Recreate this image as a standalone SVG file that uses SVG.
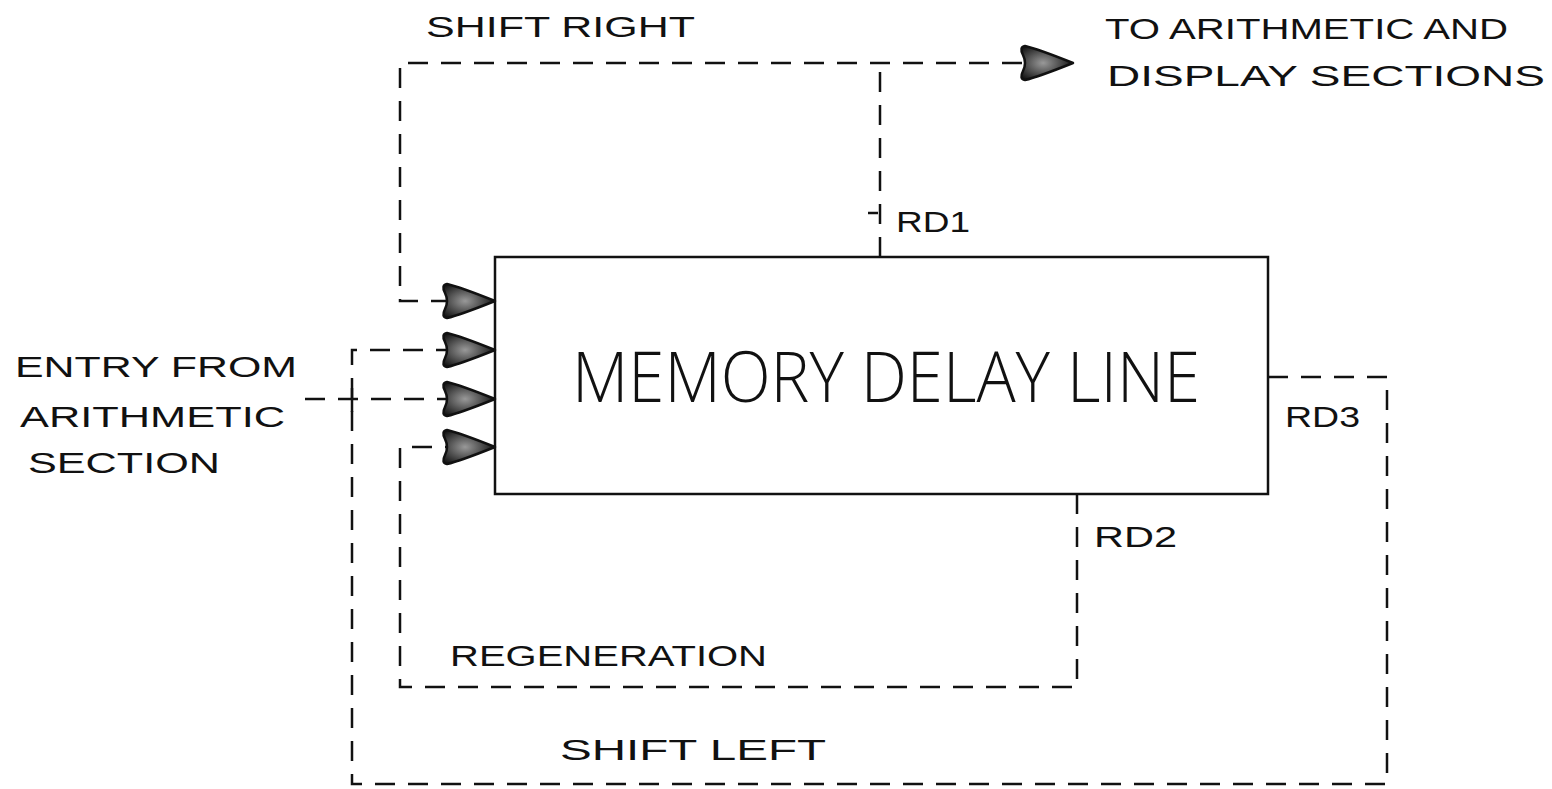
<svg xmlns="http://www.w3.org/2000/svg" width="1552" height="789" viewBox="0 0 1552 789">
<style>
.t{font-family:"Liberation Sans",Arial,sans-serif;font-size:29px;fill:#111}
.big{font-family:"Open Sans","Liberation Sans",sans-serif;font-weight:300;font-size:70px;fill:#111}
.d{fill:none;stroke:#111;stroke-width:2.5;stroke-dasharray:20 13}
.s{fill:none;stroke:#111;stroke-width:2.5}
</style>
<defs>
<radialGradient id="g" cx="0.42" cy="0.5" r="0.6">
<stop offset="0" stop-color="#999"/>
<stop offset="0.5" stop-color="#555"/>
<stop offset="1" stop-color="#111"/>
</radialGradient>
<path id="arr" d="M0,0 C-15,-6 -35,-14 -48,-17 Q-54,-16 -50,-8 Q-46,0 -50,8 Q-54,16 -48,17 C-35,14 -15,6 0,0 Z" fill="url(#g)" stroke="#111" stroke-width="2.5" stroke-linejoin="round"/>
</defs>
<rect width="1552" height="789" fill="#fff"/>

<g id="connectors">
<!-- shift right / RD1 -->
<path class="d" d="M880,257 V63"/>
<path class="d" d="M1022,63 H400 V301 H447"/>
<use href="#arr" transform="translate(1073,63)"/>
<!-- shift left / RD3 -->
<path class="d" d="M1268,377 H1387 V784 H352 V350 H447"/>
<!-- entry -->
<path class="d" d="M305,399 H447"/>
<path class="s" d="M352,388 V412"/>
<!-- regeneration / RD2 -->
<path class="d" d="M1077,494 V687 H400 V447 H447"/>
<path class="s" d="M868,213 H878"/>
<use href="#arr" transform="translate(495,301)"/>
<use href="#arr" transform="translate(495,350)"/>
<use href="#arr" transform="translate(495,399)"/>
<use href="#arr" transform="translate(495,447)"/>
</g>

<g id="memory">
<rect x="495" y="257" width="773" height="237" fill="none" stroke="#111" stroke-width="2.5"/>
<text class="big" x="572" y="402" textLength="628" lengthAdjust="spacingAndGlyphs">MEMORY DELAY LINE</text>
</g>

<g id="labels">
<text class="t" x="426" y="37" textLength="269" lengthAdjust="spacingAndGlyphs">SHIFT RIGHT</text>
<text class="t" x="1105" y="39" textLength="403" lengthAdjust="spacingAndGlyphs">TO ARITHMETIC AND</text>
<text class="t" x="1107" y="86" textLength="438" lengthAdjust="spacingAndGlyphs">DISPLAY SECTIONS</text>
<text class="t" x="896" y="232" textLength="74" lengthAdjust="spacingAndGlyphs">RD1</text>
<text class="t" x="1285" y="427" textLength="75" lengthAdjust="spacingAndGlyphs">RD3</text>
<text class="t" x="1094" y="547" textLength="83" lengthAdjust="spacingAndGlyphs">RD2</text>
<text class="t" x="15" y="377" textLength="282" lengthAdjust="spacingAndGlyphs">ENTRY FROM</text>
<text class="t" x="20" y="427" textLength="265" lengthAdjust="spacingAndGlyphs">ARITHMETIC</text>
<text class="t" x="28" y="473" textLength="192" lengthAdjust="spacingAndGlyphs">SECTION</text>
<text class="t" x="450" y="666" textLength="317" lengthAdjust="spacingAndGlyphs">REGENERATION</text>
<text class="t" x="560" y="760" textLength="266" lengthAdjust="spacingAndGlyphs">SHIFT LEFT</text>
</g>
</svg>
